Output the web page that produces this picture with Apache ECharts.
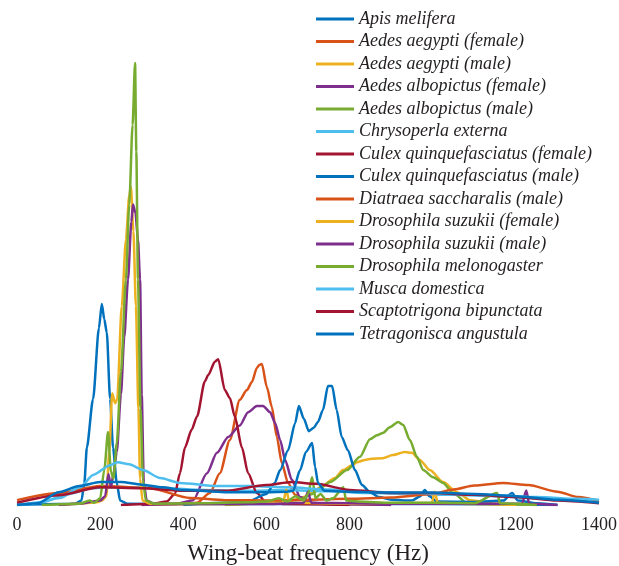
<!DOCTYPE html>
<html>
<head>
<meta charset="utf-8">
<script src="https://cdn.jsdelivr.net/npm/echarts@6/dist/echarts.min.js"></script>
<style>html,body{margin:0;padding:0;background:#fff}#c{width:619px;height:566px}</style>
</head>
<body>
<div id="c"></div>
<script>
// x ticks
const xTicks = [0, 200, 400, 600, 800, 1000, 1200, 1400];
const xTitle = 'Wing-beat frequency (Hz)';

const seriesNames = [
  'Apis melifera',
  'Aedes aegypti (female)',
  'Aedes aegypti (male)',
  'Aedes albopictus (female)',
  'Aedes albopictus (male)',
  'Chrysoperla externa',
  'Culex quinquefasciatus (female)',
  'Culex quinquefasciatus (male)',
  'Diatraea saccharalis (male)',
  'Drosophila suzukii (female)',
  'Drosophila suzukii (male)',
  'Drosophila melonogaster',
  'Musca domestica',
  'Scaptotrigona bipunctata',
  'Tetragonisca angustula'
];

// [frequency Hz, relative amplitude]
const apisMelifera = [[0,0],[100,0.2],[140,0.3],[155,1],[162,5],[168,13],[183,24],[197,40],[204,45.5],[210,42],[216,39],[224,24],[231,13],[240,5],[248,1],[265,0.3],[400,0.2],[600,0.3],[800,0.2],[1000,0.2],[1200,0.1],[1300,0]];
const aedesAegyptiF = [[300,0],[400,0.2],[433,0.5],[464,2.7],[488,7.2],[512,14.7],[536,23.8],[553,26],[565,27.8],[577,31],[583,31.7],[589,31.9],[601,26.7],[613,22.2],[625,15.4],[637,9.5],[652,5],[669,2.3],[700,0.5],[750,0.2],[900,0]];
const aedesAegyptiM = [[500,0],[600,0.5],[660,1],[690,1.8],[712,2.9],[729,4],[765,6.1],[784,7.9],[806,9],[818,9.7],[837,10.2],[849,10.4],[880,10.6],[904,11.3],[933,12],[950,11.8],[969,10.2],[993,7.9],[1025,5.2],[1058,2.9],[1090,1.1],[1150,0.3],[1250,0]];
const aedesAlbopictusF = [[300,0],[380,0.2],[424,1.1],[457,7.2],[481,11.8],[508,15.4],[536,18],[556,21],[577,22.4],[592,22.4],[609,21],[621,18.5],[633,14.7],[645,10.2],[661,5.7],[681,1.8],[710,0.5],[760,0.2],[900,0]];
const aedesAlbopictusM = [[500,0],[600,0.4],[680,1.2],[710,2.5],[729,3.8],[753,5.2],[794,7.9],[825,10.9],[849,14.9],[866,15.8],[880,16.3],[897,17.6],[917,18.8],[929,18.1],[945,14.7],[962,10.9],[977,7.9],[1001,6.3],[1025,5],[1049,2.7],[1082,0.5],[1150,0.2],[1250,0]];
const chrysoperlaExterna = [[0,0],[60,0.6],[120,2.4],[180,3.8],[250,4.1],[350,3.8],[450,3.4],[550,3.2],[650,3.4],[750,3.1],[850,2.7],[950,2.5],[1050,2.3],[1150,2],[1250,1.5],[1350,0.9],[1400,0.6]];
const culexF = [[250,0],[330,0.3],[360,0.8],[380,2.5],[392,7.2],[404,13],[420,17],[433,20],[452,28],[460,29.4],[476,32.4],[484,33],[500,26],[512,24.2],[524,20],[541,13],[556,7.2],[577,2.7],[600,0.5],[650,0.2],[800,0]];
const culexM = [[400,0],[500,0.5],[560,1],[600,2.5],[620,5],[633,7.9],[652,12.4],[669,18.5],[678,22.4],[690,19.5],[702,16.7],[714,17.5],[724,18.8],[736,21.5],[748,26.9],[758,26.9],[769,21.5],[781,15.4],[796,12.4],[813,7.9],[830,4.5],[849,2.9],[870,1.8],[900,1.2],[950,1],[970,2],[981,3.4],[992,2],[1010,0.8],[1100,0.7],[1170,1],[1191,2.7],[1205,1],[1250,0.4],[1300,0]];
const diatraeaM = [[0,1.1],[100,2.7],[200,4.3],[320,3.8],[416,1.6],[500,1.1],[600,1.0],[700,1.2],[800,1.4],[900,1.7],[1000,2.5],[1050,3.5],[1100,4.4],[1170,5],[1230,4.5],[1300,3],[1350,1.8],[1400,0.9]];
const suzukiiF = [[100,0],[150,0.3],[190,0.6],[205,1],[215,2],[222,12],[229,25.3],[236,23],[241,24],[252,45],[262,60],[270,70],[274,72],[280,62],[286,45],[292,22],[296,6],[302,1],[320,0.3],[500,0.2],[640,0.5],[648,3.5],[655,0.5],[800,0.3],[998,0.5],[1005,3],[1012,0.5],[1100,0.2],[1200,0]];
const suzukiiM = [[100,0],[150,0.3],[200,1],[212,2],[220,7],[226,4],[232,7],[240,12],[250,25],[258,38],[267,51],[275,64],[279,68],[285,66],[291,60],[296,51],[300,25],[305,5],[312,1],[330,0.3],[600,0.2],[690,0.5],[700,3],[708,0.5],[900,0.3],[1215,0.3],[1225,3.3],[1232,0.3],[1300,0]];
const melanogaster = [[60,0],[150,0.3],[175,1],[185,0.5],[200,1.5],[210,8],[219,16.5],[226,7.5],[232,6],[240,14],[250,30],[262,51],[270,68],[278,86],[284,100],[287,80],[291,51],[297,22],[303,5.7],[310,1],[330,0.3],[450,0.4],[550,0.6],[600,0.8],[630,1.5],[650,0.8],[670,2],[690,1],[700,2.5],[710,6.3],[718,1.5],[730,2.5],[745,1],[760,1.5],[785,4],[792,1],[820,0.8],[900,0.5],[1000,0.5],[1100,0.4],[1155,2.7],[1162,0.4],[1200,0.3],[1250,0]];
const muscaDomestica = [[0,0],[31,0.2],[103,1.6],[152,4],[183,6.8],[224,9],[242,9.7],[270,9.2],[303,7.9],[344,6.1],[392,5],[481,4.3],[560,4.3],[650,4],[750,3.5],[850,3],[950,2.7],[1050,2.4],[1150,2.2],[1250,1.8],[1350,1.4],[1400,1.2]];
const scaptotrigona = [[0,0.5],[100,2.2],[200,4],[300,3.8],[400,3.2],[500,3.2],[600,4.5],[660,5.2],[720,4.8],[800,3.4],[900,2.7],[1000,2.7],[1100,2.3],[1200,1.8],[1300,1],[1400,0.4]];
const tetragonisca = [[0,0],[50,0.4],[100,2.9],[150,4.3],[200,5.2],[250,5.2],[300,4.6],[350,4],[400,3.4],[500,2.9],[600,2.9],[650,3],[664,3.2],[681,7.9],[695,12],[710,14],[717,8.6],[724,5],[740,3.2],[800,3],[900,2.8],[1000,2.8],[1100,2.5],[1200,2],[1300,1.2],[1400,0.5]];

const seriesData = [apisMelifera, aedesAegyptiF, aedesAegyptiM, aedesAlbopictusF, aedesAlbopictusM, chrysoperlaExterna, culexF, culexM, diatraeaM, suzukiiF, suzukiiM, melanogaster, muscaDomestica, scaptotrigona, tetragonisca];
const palette = ['#0072BD','#D95319','#EDB120','#7E2F8E','#77AC30','#4DBEEE','#A2142F'];

const chart = echarts.init(document.getElementById('c'), null, {renderer: 'canvas'});
const series = seriesNames.map((n, i) => ({
  name: n,
  type: 'line',
  data: seriesData[i],
  showSymbol: false,
  symbol: 'none',
  smooth: 0.25,
  smoothMonotone: 'x',
  lineStyle: {width: 2.5, color: palette[i % 7]},
  itemStyle: {color: palette[i % 7]},
  animation: false
}));

chart.setOption({
  animation: false,
  backgroundColor: '#fff',
  grid: {left: 17, right: 20, top: 63, bottom: 61, containLabel: false, outerBoundsMode: 'none'},
  legend: {
    orient: 'vertical', left: 316, top: 10, padding: 0,
    data: seriesNames,
    icon: 'rect', itemWidth: 38, itemHeight: 3, itemGap: 4.5,
    textStyle: {fontFamily: 'Liberation Serif', fontStyle: 'italic', fontSize: 18, lineHeight: 18, color: '#231f20'}
  },
  xAxis: {
    type: 'value', min: 0, max: 1400, interval: 200,
    name: xTitle, nameLocation: 'middle', nameGap: 37,
    nameTextStyle: {fontFamily: 'Liberation Serif', fontSize: 23, color: '#231f20'},
    axisLine: {show: false}, axisTick: {show: false}, splitLine: {show: false},
    axisLabel: {fontFamily: 'Liberation Serif', fontSize: 18, color: '#231f20', margin: 11,
      formatter: v => xTicks.includes(v) ? String(v) : ''}
  },
  yAxis: {type: 'value', min: 0, max: 100, show: false},
  series: series
});
</script>
</body>
</html>
